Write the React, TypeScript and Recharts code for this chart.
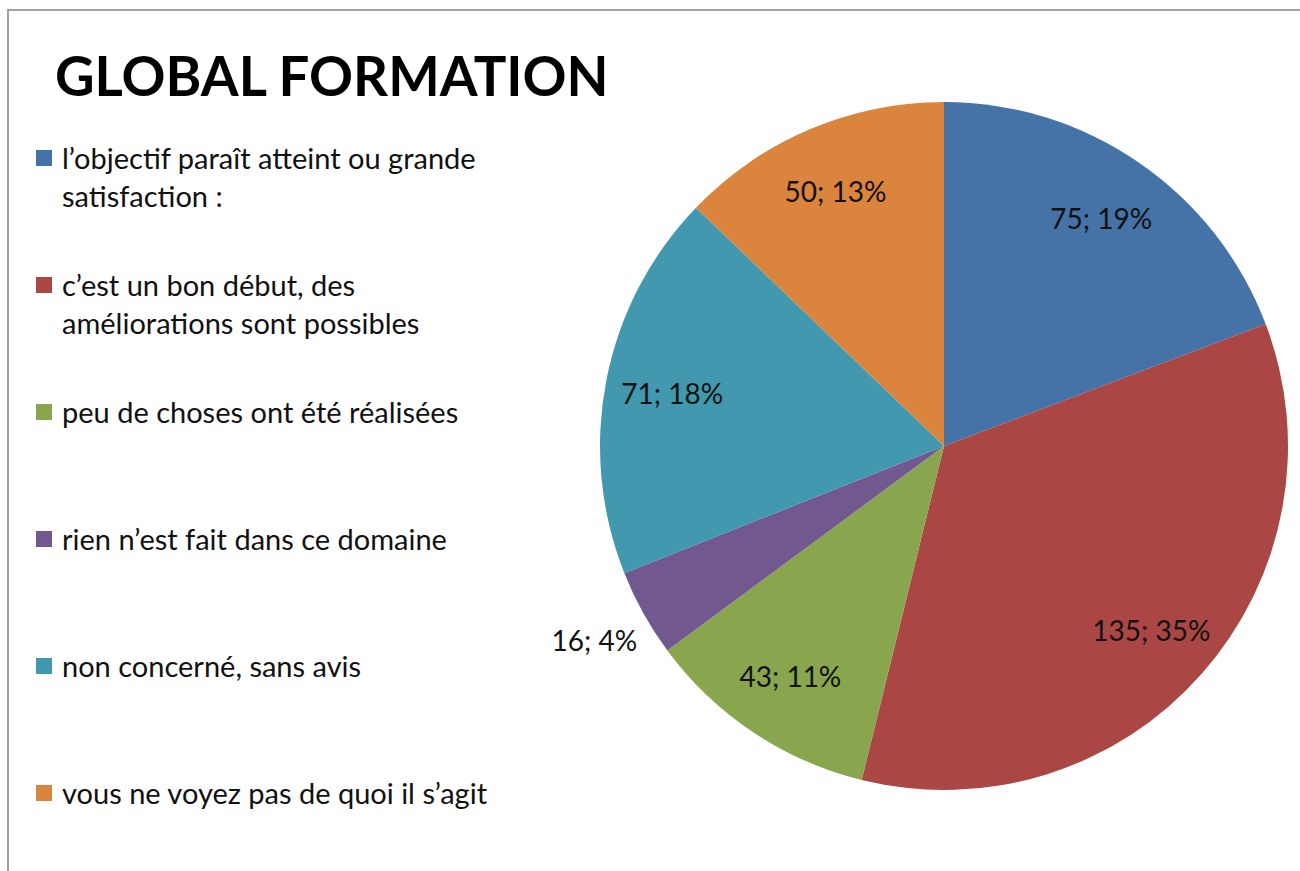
import { PieChart, Pie, Cell, Legend } from 'recharts';

const CATEGORIES = [
  'l’objectif paraît atteint ou grande satisfaction :',
  'c’est un bon début, des améliorations sont possibles',
  'peu de choses ont été réalisées',
  'rien n’est fait dans ce domaine',
  'non concerné, sans avis',
  'vous ne voyez pas de quoi il s’agit',
];
const VALUES = [75, 135, 43, 16, 71, 50];
const COLORS = ['#4572A7', '#AA4643', '#89A54E', '#71588F', '#4198AF', '#DB843D'];

const TITLE = 'GLOBAL FORMATION';
const FONT = 'Lato, "Open Sans", sans-serif';
const RADIAN = Math.PI / 180;

const data = CATEGORIES.map((name, i) => ({ name, value: VALUES[i] }));

function renderLabel(props: any) {
  const { cx, cy, midAngle, outerRadius, value, percent } = props;
  const outside = percent < 0.06;
  const r = outside ? outerRadius + 56 : outerRadius * 0.805;
  const x = cx + r * Math.cos(-midAngle * RADIAN);
  const y = cy + r * Math.sin(-midAngle * RADIAN);
  return (
    <text x={x} y={y} textAnchor="middle" dominantBaseline="central"
      fill="#111" fontSize={28} fontFamily={FONT}>
      {`${value}; ${Math.round(percent * 100)}%`}
    </text>
  );
}

function LegendContent({ payload }: any) {
  // keep the data order, not the alphabetical one
  const items = [...(payload ?? [])].sort(
    (a: any, b: any) => CATEGORIES.indexOf(a.value) - CATEGORIES.indexOf(b.value),
  );
  return (
    <div style={{ position: 'relative', width: 480, height: 700 }}>
      {items.map((entry: any, i: number) => (
        <div key={i} style={{
          position: 'absolute', left: 0, top: i * 127, display: 'flex',
          alignItems: 'flex-start', fontFamily: FONT, fontSize: 29, lineHeight: '38px', color: '#111',
        }}>
          <span style={{ width: 16, height: 16, background: entry.color, marginTop: 11, marginRight: 10, flex: 'none' }} />
          <span style={{ width: 445 }}>{entry.value}</span>
        </div>
      ))}
    </div>
  );
}

export default function App() {
  return (
    <div style={{ position: 'absolute', left: 0, top: 0, width: 1300, height: 871, overflow: 'hidden', background: '#fff' }}>
      <div style={{
        position: 'absolute', left: 7, top: 9, width: 1400, height: 1000,
        borderTop: '2px solid #a0a0a0', borderLeft: '2px solid #a0a0a0',
      }} />
      <div style={{
        position: 'absolute', left: 55, top: 38, fontFamily: FONT, fontWeight: 700,
        fontSize: 54.5, color: '#000', lineHeight: '74px', whiteSpace: 'nowrap',
      }}>{TITLE}</div>
      <div style={{ position: 'absolute', left: 0, top: 0 }}>
        <PieChart width={1300} height={871} margin={{ top: 0, right: 0, bottom: 0, left: 0 }}>
          <Legend layout="vertical" align="right" verticalAlign="top"
            wrapperStyle={{ left: 36, top: 139, right: 'auto', width: 480 }}
            content={<LegendContent />} />
          <Pie data={data} dataKey="value" nameKey="name" cx={944} cy={446} outerRadius={344}
            startAngle={90} endAngle={-270} stroke="none" label={renderLabel} labelLine={false}
            isAnimationActive={false}>
            {data.map((_, i) => (
              <Cell key={i} fill={COLORS[i]} />
            ))}
          </Pie>
        </PieChart>
      </div>
    </div>
  );
}
